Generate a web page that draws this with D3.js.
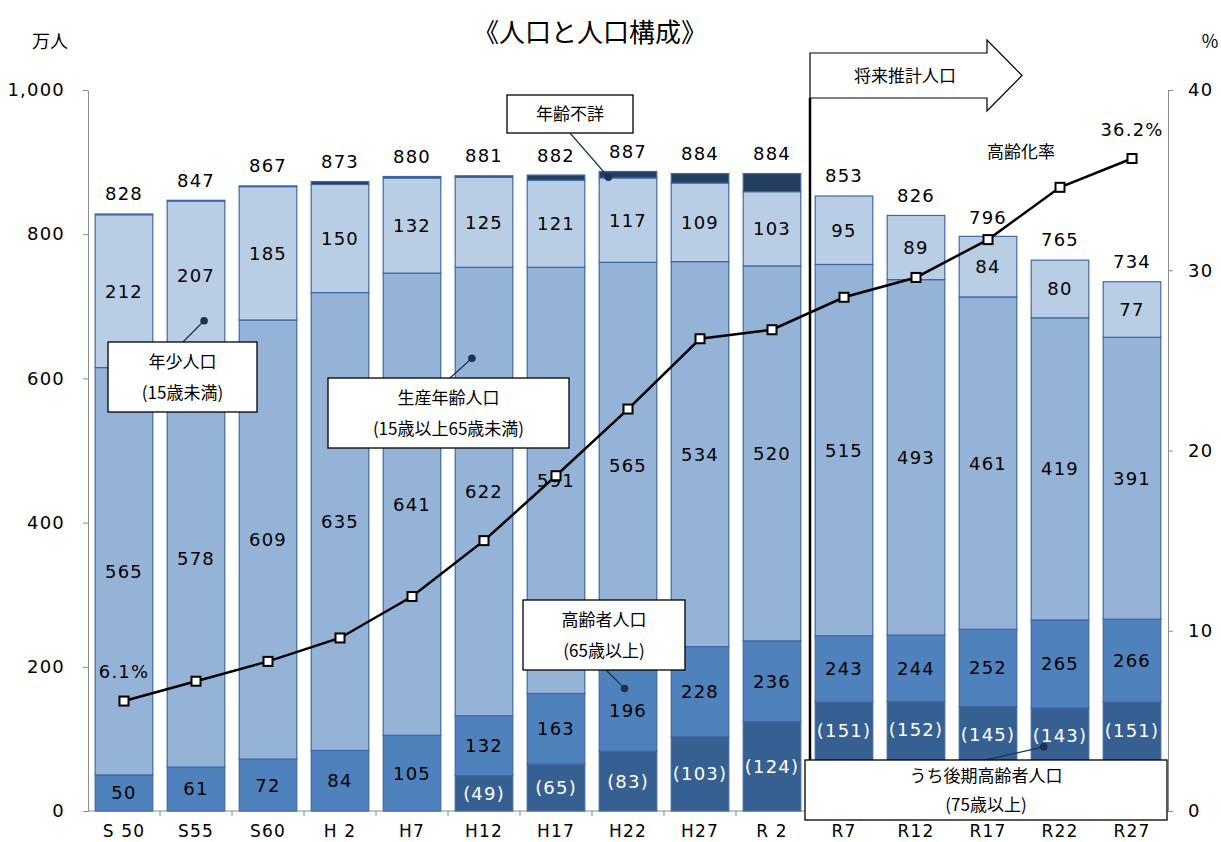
<!DOCTYPE html>
<html><head><meta charset="utf-8">
<script src="https://cdn.jsdelivr.net/npm/d3@7"></script>
<style>
html,body{margin:0;padding:0;background:#fff;}
svg text{font-family:"Noto Sans CJK JP","Noto Sans",sans-serif;}
svg text.num{font-family:"DejaVu Sans","Noto Sans CJK JP",sans-serif;letter-spacing:1.2px;}
</style></head>
<body>
<svg id="c" width="1221" height="842"></svg>
<script>
const categories = ["S 50","S55","S60","H 2","H7","H12","H17","H22","H27","R 2","R7","R12","R17","R22","R27"];
const totals   = [828,847,867,873,880,881,882,887,884,884,853,826,796,765,734];
const elderly  = [50,61,72,84,105,132,163,196,228,236,243,244,252,265,266];      // 65歳以上
const lateElderly = [null,null,null,null,null,49,65,83,103,124,151,152,145,143,151]; // 75歳以上
const working  = [565,578,609,635,641,622,591,565,534,520,515,493,461,419,391];
const young    = [212,207,185,150,132,125,121,117,109,103,95,89,84,80,77];
const unknown  = [1,1,1,4,2,2,7,9,13,25,0,0,0,0,0];
const agingRate = [6.1,7.2,8.3,9.6,11.9,15.0,18.6,22.3,26.2,26.7,28.5,29.6,31.7,34.6,36.2];
const leftTicks = [0,200,400,600,800,1000];
const rightTicks = [0,10,20,30,40];

const svg = d3.select("#c");
const L = 88, R = 1168, T = 90, B = 811;
const x = d3.scaleBand().domain(categories).range([L,R]).paddingInner(0.2).paddingOuter(0.1);
const y = d3.scaleLinear().domain([0,1000]).range([B,T]);
const y2 = d3.scaleLinear().domain([0,40]).range([B,T]);
const bw = x.bandwidth();
const step = x.step();

const C = {young:"#b9cde5", working:"#95b3d7", old:"#4f81bd", late:"#376092", unk:"#243f60", stroke:"#3f68a3"};
const axisColor = "#8c8c8c";

// axes
const gL = svg.append("g").attr("transform",`translate(${L},0)`)
  .call(d3.axisLeft(y).tickValues(leftTicks).tickSize(5).tickSizeOuter(0).tickFormat(d3.format(",")).tickPadding(18));
const gR = svg.append("g").attr("transform",`translate(${R},0)`)
  .call(d3.axisRight(y2).tickValues(rightTicks).tickSize(5).tickSizeOuter(0).tickPadding(15));
[gL,gR].forEach(g=>{
  g.select(".domain").attr("stroke",axisColor);
  g.selectAll(".tick line").attr("stroke",axisColor);
  g.selectAll(".tick text").attr("class","num").attr("font-size",18).attr("fill","#000");
});
// bottom axis line and boundary ticks
svg.append("line").attr("x1",L).attr("x2",R).attr("y1",B).attr("y2",B).attr("stroke",axisColor);
categories.forEach((c,i)=>{
  const bx = x(c) - step*0.1;
  if(i>0) svg.append("line").attr("x1",bx).attr("x2",bx).attr("y1",B).attr("y2",B+5).attr("stroke",axisColor);
});
svg.append("g").selectAll("text").data(categories).join("text").attr("class","num")
  .attr("x",d=>x(d)+bw/2).attr("y",837).attr("text-anchor","middle").attr("font-size",17).text(d=>d);

// stacked bars
const bars = svg.append("g");
const labels = svg.append("g");
categories.forEach((c,i)=>{
  const segs = [];
  let base = 0;
  if(lateElderly[i]!=null){
    segs.push({v:lateElderly[i], col:C.late, label:`(${lateElderly[i]})`, lc:"#fff", key:"late"});
    segs.push({v:elderly[i]-lateElderly[i], col:C.old, label:String(elderly[i]), lc:"#000", key:"old"});
  } else {
    segs.push({v:elderly[i], col:C.old, label:String(elderly[i]), lc:"#000", key:"old"});
  }
  segs.push({v:working[i], col:C.working, label:String(working[i]), lc:"#000"});
  segs.push({v:young[i], col:C.young, label:String(young[i]), lc:"#000"});
  if(unknown[i]>0) segs.push({v:unknown[i], col:C.unk, label:null});
  segs.forEach(s=>{
    s.y0 = base; s.y1 = base + s.v; base = s.y1;
    bars.append("rect").attr("x",x(c)).attr("width",bw)
      .attr("y",y(s.y1)).attr("height",y(s.y0)-y(s.y1))
      .attr("fill",s.col).attr("stroke",C.stroke).attr("stroke-width",1.2);
  });
  segs.forEach(s=>{
    if(!s.label) return;
    let cy = (y(s.y0)+y(s.y1))/2;
    if(s.key==="late" && i>=10) cy = Math.min(cy, y(s.y1)+28);
    labels.append("text").attr("class","num").attr("x",x(c)+bw/2).attr("y",cy).attr("dy","0.36em")
      .attr("text-anchor","middle").attr("font-size",18).attr("fill",s.lc).text(s.label);
  });
  labels.append("text").attr("class","num").attr("x",x(c)+bw/2).attr("y",y(totals[i])-20).attr("dy","0.36em")
    .attr("text-anchor","middle").attr("font-size",18).text(totals[i]);
});

// divider line and arrow
const divX = x("R7") - step*0.1 + 2;
svg.append("line").attr("x1",divX).attr("x2",divX).attr("y1",98).attr("y2",B).attr("stroke","#000").attr("stroke-width",2.5);
svg.append("path").attr("d",`M${divX},53 L987,53 L987,40 L1022,75.5 L987,111 L987,98 L${divX},98 Z`)
  .attr("fill","#fff").attr("stroke","#000").attr("stroke-width",1.2);
svg.append("text").attr("x",905).attr("y",76).attr("dy","0.36em").attr("text-anchor","middle").attr("font-size",17).text("将来推計人口");

// aging rate line
const line = d3.line().x((d,i)=>x(categories[i])+bw/2).y(d=>y2(d));
svg.append("path").datum(agingRate).attr("d",line).attr("fill","none").attr("stroke","#000").attr("stroke-width",2.5);
svg.append("g").selectAll("rect").data(agingRate).join("rect")
  .attr("x",(d,i)=>x(categories[i])+bw/2-4.5).attr("y",d=>y2(d)-4.5).attr("width",9).attr("height",9)
  .attr("fill","#fff").attr("stroke","#000").attr("stroke-width",2);
svg.append("text").attr("class","num").attr("x",x(categories[0])+bw/2).attr("y",y2(agingRate[0])-30).attr("dy","0.36em")
  .attr("text-anchor","middle").attr("font-size",18).text(agingRate[0].toFixed(1)+"%");
svg.append("text").attr("class","num").attr("x",x(categories[14])+bw/2).attr("y",y2(agingRate[14])-29).attr("dy","0.36em")
  .attr("text-anchor","middle").attr("font-size",18).text(agingRate[14].toFixed(1)+"%");
svg.append("text").attr("x",1021).attr("y",152).attr("dy","0.36em").attr("text-anchor","middle").attr("font-size",17).text("高齢化率");

// annotation callouts
const notes = [
  {lines:["年少人口","(15歳未満)"], box:[108,342,149,70], dot:[x("S55")+bw*0.64, y(680)], anchor:[183,342]},
  {lines:["生産年齢人口","(15歳以上65歳未満)"], box:[328,378,241,70], dot:[x("H12")+bw*0.29, y(628)], anchor:[450,378]},
  {lines:["年齢不詳"], box:[507,95,126,38], dot:[x("H22")+bw*0.16, y(879)], anchor:[570,133]},
  {lines:["高齢者人口","(65歳以上)"], box:[523,600,162,70], dot:[x("H22")+bw*0.44, y(170)], anchor:[606,670]},
  {lines:["うち後期高齢者人口","(75歳以上)"], box:[805,760,362,60], dot:[x("R22")+bw*0.22, y(89)], anchor:[985,760]}
];
const ng = svg.append("g");
notes.forEach(n=>{
  ng.append("line").attr("x1",n.anchor[0]).attr("y1",n.anchor[1]).attr("x2",n.dot[0]).attr("y2",n.dot[1])
    .attr("stroke","#1f3050").attr("stroke-width",1.2);
  ng.append("circle").attr("cx",n.dot[0]).attr("cy",n.dot[1]).attr("r",3.8).attr("fill","#1f3050");
  const [bx,by,bwid,bh] = n.box;
  ng.append("rect").attr("x",bx).attr("y",by).attr("width",bwid).attr("height",bh)
    .attr("fill","#fff").attr("stroke","#000").attr("stroke-width",1.3);
  const lh = n.lines.length===1 ? 0 : (bh>=65?31:29);
  n.lines.forEach((t,k)=>{
    ng.append("text").attr("x",bx+bwid/2).attr("y",by+bh/2+(k-(n.lines.length-1)/2)*lh).attr("dy","0.36em")
      .attr("text-anchor","middle").attr("font-size",17).text(t);
  });
});

// titles
svg.append("text").attr("x",590).attr("y",33).attr("dy","0.36em").attr("text-anchor","middle")
  .attr("font-size",26).attr("font-weight",400).text("《人口と人口構成》");
svg.append("text").attr("x",50).attr("y",42).attr("dy","0.36em").attr("text-anchor","middle").attr("font-size",18).text("万人");
svg.append("text").attr("x",1210).attr("y",42).attr("dy","0.36em").attr("text-anchor","middle").attr("font-size",18).text("%");
</script>
</body></html>
